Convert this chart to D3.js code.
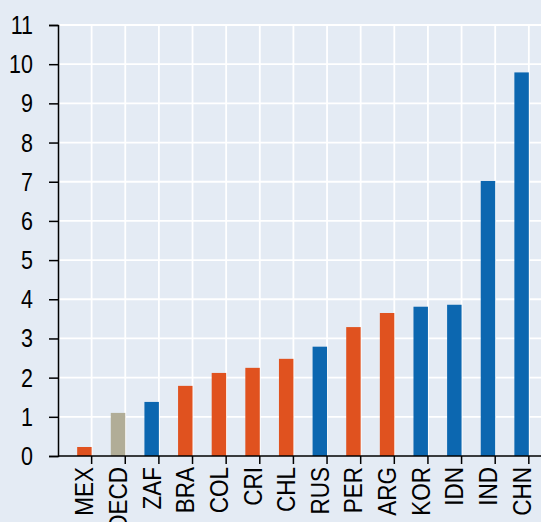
<!DOCTYPE html>
<html>
<head>
<meta charset="utf-8">
<script src="https://cdn.jsdelivr.net/npm/d3@7"></script>
<style>
  body { margin: 0; background: #e4ebf4; }
  svg { display: block; }
</style>
</head>
<body>
<div id="chart"></div>
<script>
// categories and values
const countries = ["MEX", "OECD", "ZAF", "BRA", "COL", "CRI", "CHL", "RUS", "PER", "ARG", "KOR", "IDN", "IND", "CHN"];
const values = [0.23, 1.1, 1.38, 1.79, 2.12, 2.25, 2.48, 2.79, 3.29, 3.65, 3.81, 3.86, 7.02, 9.79];
const groups = ["latam", "oecd", "other", "latam", "latam", "latam", "latam", "other", "latam", "latam", "other", "other", "other", "other"];
const yTicks = [0, 1, 2, 3, 4, 5, 6, 7, 8, 9, 10, 11];

const colors = {latam: "#e0521f", oecd: "#b1ad97", other: "#0c67b0"};

function main() {
    const W = 541, H = 522;
    const margin = {top: 25, right: -7, bottom: 66, left: 58},
        width = W - margin.left - margin.right,
        height = H - margin.top - margin.bottom;
    const font = "Liberation Sans, Arial, sans-serif";

    const svg = d3.select("#chart")
        .append("svg")
        .attr("width", W)
        .attr("height", H)
        .style("background", "#e4ebf4")
        .append("g")
        .attr("transform", `translate(${margin.left},${margin.top})`);

    const x = d3.scaleBand()
        .domain(countries)
        .range([0, width])
        .padding(0.57);

    const y = d3.scaleLinear()
        .domain([0, 11])
        .range([height, 0]);

    // right edge of each band (gridline / tick position)
    const step = x.step();
    const bandEnd = d => x(d) - x.paddingOuter() * step + step;

    // gridlines
    svg.append("g")
        .selectAll("line")
        .data(countries)
        .enter()
        .append("line")
        .attr("x1", bandEnd)
        .attr("x2", bandEnd)
        .attr("y1", 0)
        .attr("y2", height)
        .attr("stroke", "#ffffff")
        .attr("stroke-width", 1.8);

    svg.append("g")
        .selectAll("line")
        .data(yTicks.slice(1))
        .enter()
        .append("line")
        .attr("x1", 0)
        .attr("x2", width)
        .attr("y1", d => y(d))
        .attr("y2", d => y(d))
        .attr("stroke", "#ffffff")
        .attr("stroke-width", 1.8);

    // bars
    svg.append("g")
        .selectAll("rect")
        .data(countries)
        .enter()
        .append("rect")
        .attr("x", d => x(d))
        .attr("y", (d, i) => y(values[i]))
        .attr("width", x.bandwidth())
        .attr("height", (d, i) => height - y(values[i]))
        .attr("fill", (d, i) => colors[groups[i]]);

    // y axis (labels drawn separately so they can be narrowed)
    const yAxis = svg.append("g")
        .call(d3.axisLeft(y).tickValues(yTicks).tickSize(9).tickFormat(""));
    yAxis.select(".domain").attr("stroke", "#000").attr("stroke-width", 1.5);
    yAxis.selectAll(".tick line").attr("stroke", "#000").attr("stroke-width", 1.5);

    svg.append("g")
        .selectAll("text")
        .data(yTicks)
        .enter()
        .append("text")
        .attr("transform", d => `translate(-25,${y(d)}) scale(0.86,1)`)
        .attr("dy", "0.36em")
        .attr("text-anchor", "end")
        .attr("font-family", font)
        .attr("font-size", "25px")
        .attr("fill", "#000")
        .text(d => d);

    // x axis: ticks at band boundaries
    const xg = svg.append("g").attr("transform", `translate(0,${height})`);
    xg.append("line")
        .attr("x1", 0).attr("x2", width)
        .attr("y1", 0).attr("y2", 0)
        .attr("stroke", "#000").attr("stroke-width", 1.5);
    xg.selectAll(".xtick")
        .data(countries)
        .enter()
        .append("line")
        .attr("class", "xtick")
        .attr("x1", bandEnd)
        .attr("x2", bandEnd)
        .attr("y1", 0).attr("y2", 8)
        .attr("stroke", "#000").attr("stroke-width", 1.5);
    xg.selectAll("text")
        .data(countries)
        .enter()
        .append("text")
        .attr("transform", d => `translate(${x(d) + x.bandwidth() / 2 + 9},11) rotate(-90) scale(0.9,1)`)
        .attr("text-anchor", "end")
        .attr("font-family", font)
        .attr("font-size", "25px")
        .attr("fill", "#000")
        .text(d => d);
}

main()
</script>
</body>
</html>
